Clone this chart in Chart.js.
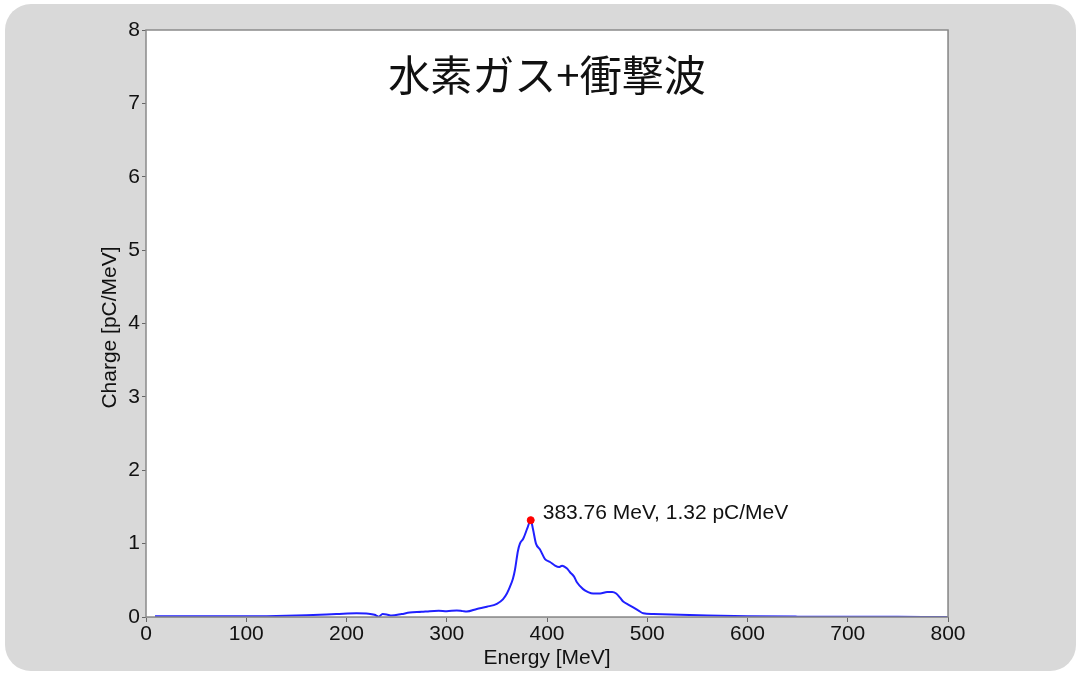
<!DOCTYPE html>
<html>
<head>
<meta charset="utf-8">
<script src="https://cdn.jsdelivr.net/npm/chart.js@4.4.1/dist/chart.umd.min.js"></script>
<style>
  html, body { margin: 0; padding: 0; background: #ffffff; }
  #wrap { position: relative; width: 1081px; height: 675px; }
  #panel { position: absolute; left: 5px; top: 4px; width: 1071px; height: 667px;
           background: #d9d9d9; border-radius: 26px; }
  #c { position: absolute; left: 0; top: 0; }
</style>
</head>
<body>
<div id="wrap">
  <div id="panel"></div>
  <canvas id="c" width="1081" height="675"></canvas>
</div>
<script>
// Electron spectrum: energy [MeV] vs charge density [pC/MeV]
const energy = [9, 50, 100, 130, 160, 190, 210, 222, 228, 232, 236, 240, 245, 255, 263, 275, 283, 292, 300, 310,
  316, 320, 330, 340, 350, 356, 360, 363, 366, 368, 371, 373, 376.4, 380.4, 383.76, 386, 389, 393, 398, 403,
  408, 412, 415, 420, 423, 427, 430, 436, 441, 446, 453, 460, 465, 469, 473, 476, 481, 486, 491, 496,
  506, 533, 560, 600, 650, 700, 750, 800];
const charge = [0.01, 0.01, 0.01, 0.015, 0.025, 0.04, 0.05, 0.045, 0.03, 0.005, 0.04, 0.035, 0.02, 0.04, 0.06, 0.07, 0.08, 0.085, 0.08, 0.09,
  0.08, 0.075, 0.11, 0.14, 0.18, 0.24, 0.32, 0.41, 0.52, 0.64, 0.9, 1.0, 1.07, 1.21, 1.32, 1.2, 1.0, 0.92, 0.79, 0.75,
  0.70, 0.68, 0.70, 0.66, 0.61, 0.55, 0.47, 0.38, 0.34, 0.32, 0.32, 0.34, 0.34, 0.32, 0.26, 0.21, 0.17, 0.13, 0.09, 0.05,
  0.04, 0.03, 0.02, 0.01, 0.005, 0.003, 0.002, 0.001];

// Peak marker
const peakEnergy = [383.76];
const peakCharge = [1.32];

const titleText = '水素ガス+衝撃波';
const xTitle = 'Energy [MeV]';
const yTitle = 'Charge [pC/MeV]';
const xTicks = [0, 100, 200, 300, 400, 500, 600, 700, 800];
const yTicks = [0, 1, 2, 3, 4, 5, 6, 7, 8];

const textFont = '"Liberation Sans", Arial, sans-serif';

const spectrum = energy.map((e, i) => ({ x: e, y: charge[i] }));
const peak = peakEnergy.map((e, i) => ({ x: e, y: peakCharge[i] }));

// Frame around the plot, titles, and the peak annotation
const decorations = {
  id: 'decorations',
  beforeDatasetsDraw(chart) {
    const { ctx, chartArea: a } = chart;
    ctx.save();
    ctx.fillStyle = '#ffffff';
    ctx.fillRect(a.left, a.top, a.right - a.left, a.bottom - a.top);
    ctx.restore();
  },
  beforeDraw(chart) {
    const { ctx, chartArea: a } = chart;
    ctx.save();
    ctx.fillStyle = '#ffffff';
    ctx.fillRect(a.left, a.top, a.right - a.left, a.bottom - a.top);
    ctx.restore();
  },
  afterDraw(chart) {
    const { ctx, chartArea: a, scales } = chart;
    ctx.save();
    ctx.strokeStyle = '#8a8a8a';
    ctx.lineWidth = 1.5;
    ctx.strokeRect(a.left, a.top, a.right - a.left, a.bottom - a.top);

    const cx = (a.left + a.right) / 2;
    ctx.fillStyle = '#111111';
    ctx.font = '42px "Noto Sans CJK JP", sans-serif';
    ctx.textAlign = 'center';
    ctx.textBaseline = 'middle';
    ctx.fillText(titleText, cx, a.top + 45);

    // axis titles
    ctx.font = '21px ' + textFont;
    ctx.fillText(xTitle, cx, 658);
    ctx.save();
    ctx.translate(110, (a.top + a.bottom) / 2 + 4);
    ctx.rotate(-Math.PI / 2);
    ctx.fillText(yTitle, 0, 0);
    ctx.restore();

    const px = scales.x.getPixelForValue(peakEnergy[0]);
    const py = scales.y.getPixelForValue(peakCharge[0]);
    ctx.font = '21px ' + textFont;
    ctx.textAlign = 'left';
    ctx.fillText(peakEnergy[0].toFixed(2) + ' MeV, ' + peakCharge[0].toFixed(2) + ' pC/MeV', px + 12, py - 7);
    ctx.restore();
  }
};

new Chart(document.getElementById('c'), {
  type: 'scatter',
  data: {
    datasets: [
      {
        data: spectrum,
        showLine: true,
        borderColor: '#2020ff',
        borderWidth: 2,
        pointRadius: 0,
        cubicInterpolationMode: 'monotone',
        order: 2
      },
      {
        data: peak,
        showLine: false,
        pointRadius: 3.5,
        pointBackgroundColor: '#ff0000',
        pointBorderColor: '#ff0000',
        order: 1
      }
    ]
  },
  options: {
    responsive: false,
    animation: false,
    layout: { padding: { left: 0, top: 30, right: 133, bottom: 0 } },
    plugins: { legend: { display: false }, tooltip: { enabled: false } },
    scales: {
      x: {
        type: 'linear',
        min: 0, max: 800,
        afterFit(s) { s.height = 58; },
        afterBuildTicks(s) { s.ticks = xTicks.map(v => ({ value: v })); },
        grid: { color: '#b9b9b9', lineWidth: 1, tickLength: 5, tickColor: '#666666', drawTicks: true },
        border: { display: false },
        ticks: { color: '#111111', font: { size: 21, family: textFont }, padding: 0, maxRotation: 0 },
        title: { display: false }
      },
      y: {
        type: 'linear',
        min: 0, max: 8,
        afterFit(s) { s.width = 146; },
        afterBuildTicks(s) { s.ticks = yTicks.map(v => ({ value: v })); },
        grid: { color: '#b9b9b9', lineWidth: 1, tickLength: 4, tickColor: '#666666', drawTicks: true },
        border: { display: false },
        ticks: { color: '#111111', font: { size: 21, family: textFont }, padding: 2 },
        title: { display: false }
      }
    }
  },
  plugins: [decorations]
});
</script>
</body>
</html>
